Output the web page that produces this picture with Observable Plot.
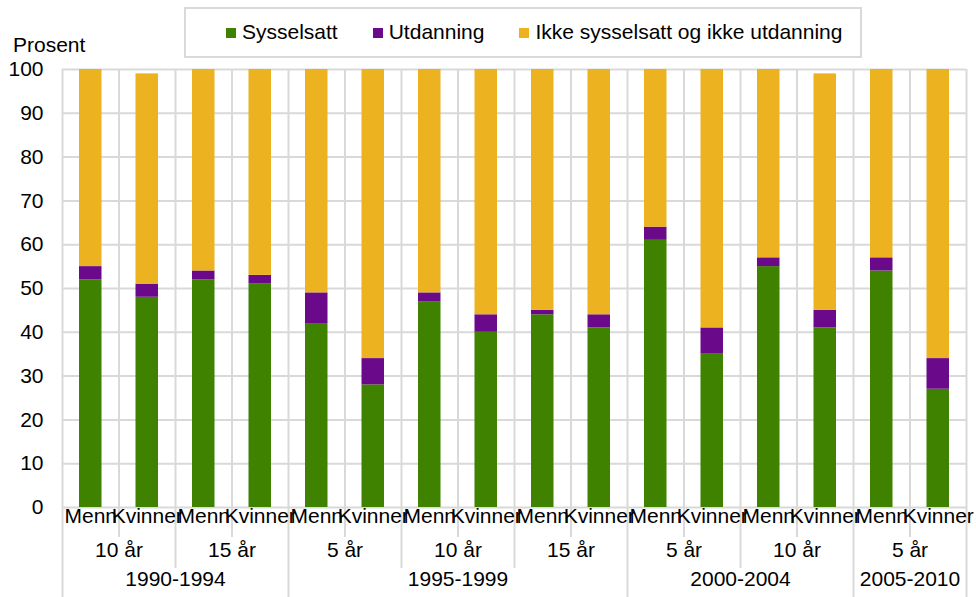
<!DOCTYPE html>
<html>
<head>
<meta charset="utf-8">
<script src="https://cdn.jsdelivr.net/npm/d3@7"></script>
<script src="https://cdn.jsdelivr.net/npm/@observablehq/plot@0.6"></script>
<style>
html, body { margin: 0; padding: 0; background: #fff; }
#wrap { position: relative; width: 976px; height: 597px; overflow: hidden;
  font-family: "Liberation Sans", Arial, sans-serif; color: #000; }
#chart { position: absolute; left: 0; top: 0; }
#legend { position: absolute; left: 184px; top: 7px; width: 678px; height: 51px; box-sizing: border-box;
  border: 2px solid #d9d9d9; display: flex; align-items: center; padding-left: 40px; padding-bottom: 2px;
  font-size: 21px; background: #fff; }
#legend .item { display: flex; align-items: center; margin-right: 35px; white-space: nowrap; }
#legend .sw { width: 10px; height: 10px; margin-right: 6px; margin-top: 3px; }
#ylab { position: absolute; left: 13px; top: 34px; font-size: 21px; line-height: 21px; }
</style>
</head>
<body>
<div id="wrap">
  <div id="chart"></div>
  <div id="legend"></div>
  <div id="ylab">Prosent</div>
</div>
<script>
// ---- data ----
const periods = ["1990-1994","1990-1994","1990-1994","1990-1994",
                 "1995-1999","1995-1999","1995-1999","1995-1999","1995-1999","1995-1999",
                 "2000-2004","2000-2004","2000-2004","2000-2004",
                 "2005-2010","2005-2010"];
const years = ["10 år","10 år","15 år","15 år",
               "5 år","5 år","10 år","10 år","15 år","15 år",
               "5 år","5 år","10 år","10 år",
               "5 år","5 år"];
const genders = ["Menn","Kvinner","Menn","Kvinner","Menn","Kvinner","Menn","Kvinner",
                 "Menn","Kvinner","Menn","Kvinner","Menn","Kvinner","Menn","Kvinner"];
const sysselsatt = [52, 48, 52, 51, 42, 28, 47, 40, 44, 41, 61, 35, 55, 41, 54, 27];
const utdanning  = [ 3,  3,  2,  2,  7,  6,  2,  4,  1,  3,  3,  6,  2,  4,  3,  7];
const ikke       = [45, 48, 46, 47, 51, 66, 51, 56, 55, 56, 36, 59, 43, 54, 43, 66];
const seriesNames = ["Sysselsatt", "Utdanning", "Ikke sysselsatt og ikke utdanning"];
const seriesColors = ["#3f8200", "#6a0a8a", "#ecb220"];
const yTicks = [0, 10, 20, 30, 40, 50, 60, 70, 80, 90, 100];

// ---- derived tables ----
const bars = genders.map((g, i) => ({
  i, gender: g, period: periods[i], years: years[i],
  [seriesNames[0]]: sysselsatt[i], [seriesNames[1]]: utdanning[i], [seriesNames[2]]: ikke[i]
}));
const n = bars.length;
const layers = d3.stack().keys(seriesNames)(bars);
const rows = layers.flatMap(layer => layer.map(p => ({
  series: layer.key, x1: p.data.i, x2: p.data.i + 1, y1: p[0], y2: p[1]
})));
const subgroups = d3.groups(bars, d => d.period + "|" + d.years).map(([, v]) => ({
  label: v[0].years, x: (v[0].i + v[v.length - 1].i + 1) / 2
}));
const groups = d3.groups(bars, d => d.period).map(([k, v]) => ({
  label: k, x: (v[0].i + v[v.length - 1].i + 1) / 2
}));
const bounds = d3.range(n + 1).map(i => ({
  i,
  type: (i === 0 || i === n || periods[i] !== periods[i - 1]) ? "group"
      : (years[i] !== years[i - 1]) ? "sub" : "gender"
}));

const grid = "#d9d9d9";
const chart = Plot.plot({
  width: 976, height: 597,
  marginLeft: 62, marginRight: 10, marginTop: 69, marginBottom: 90,
  style: { fontFamily: '"Liberation Sans", Arial, sans-serif', fontSize: "21px", color: "#000", background: "transparent", overflow: "visible" },
  x: { domain: [0, n], axis: null },
  y: { domain: [0, 100], ticks: yTicks, tickSize: 0, tickPadding: 19, label: null },
  color: { domain: seriesNames, range: seriesColors },
  marks: [
    Plot.ruleY(yTicks, { stroke: grid, strokeWidth: 2 }),
    Plot.ruleX(bounds.filter(d => d.type === "gender"), { x: "i", stroke: grid, strokeWidth: 2, insetBottom: -30 }),
    Plot.ruleX(bounds.filter(d => d.type === "sub"), { x: "i", stroke: grid, strokeWidth: 2, insetBottom: -61 }),
    Plot.ruleX(bounds.filter(d => d.type === "group"), { x: "i", stroke: grid, strokeWidth: 2, insetBottom: -90 }),
    Plot.rect(rows, { x1: "x1", x2: "x2", y1: "y1", y2: "y2", fill: "series", insetLeft: 17, insetRight: 17 }),
    Plot.text(bars, { x: d => d.i + 0.5, text: "gender", frameAnchor: "bottom", dy: 15, fill: "#000" }),
    Plot.text(subgroups, { x: "x", text: "label", frameAnchor: "bottom", dy: 49, fill: "#000" }),
    Plot.text(groups, { x: "x", text: "label", frameAnchor: "bottom", dy: 78, fill: "#000" })
  ]
});
document.getElementById("chart").appendChild(chart);

// ---- legend ----
const legend = document.getElementById("legend");
seriesNames.forEach((s, k) => {
  const item = document.createElement("div");
  item.className = "item";
  const sw = document.createElement("span");
  sw.className = "sw";
  sw.style.background = seriesColors[k];
  const label = document.createElement("span");
  label.textContent = s;
  item.appendChild(sw);
  item.appendChild(label);
  legend.appendChild(item);
});
</script>
</body>
</html>
